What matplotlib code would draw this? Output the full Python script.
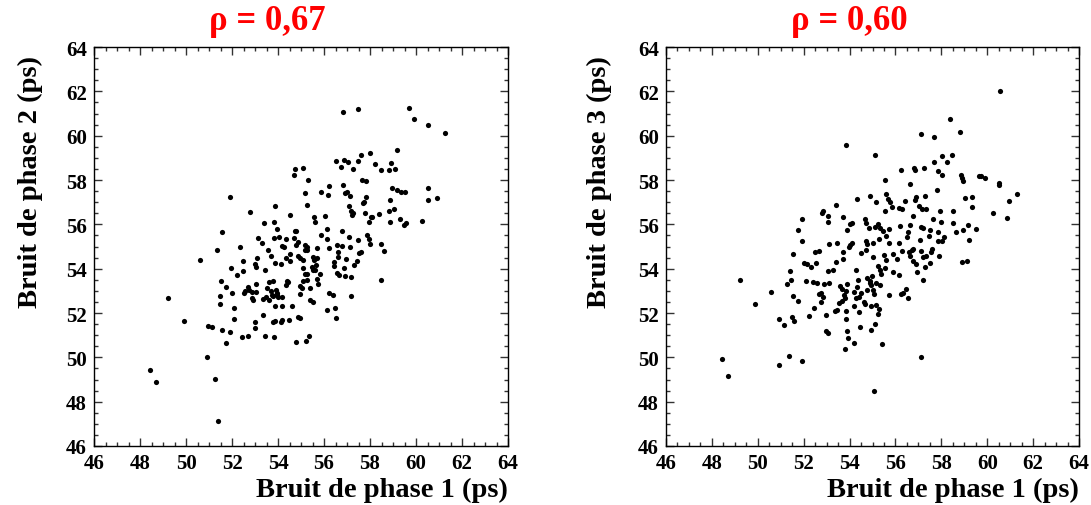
import matplotlib
matplotlib.use("Agg")
import matplotlib.pyplot as plt
from matplotlib.ticker import MultipleLocator

# ---- data: left panel (phase 1 vs phase 2) ----
phase1_a = [56.82, 57.46, 59.69, 59.91, 60.53, 61.27, 59.18, 58.01, 57.62, 56.50,
            56.85, 57.05, 57.49, 58.21, 58.91, 59.08, 58.81, 58.47, 57.27, 56.76,
            54.74, 55.10, 54.68, 55.31, 57.66, 57.84, 56.23, 56.81, 58.94, 59.16,
            59.34, 59.52, 60.50, 55.17, 55.88, 56.18, 56.92, 57.01, 57.11, 57.84,
            51.92, 55.24, 57.74, 57.68, 58.87, 60.50, 60.91, 57.08, 57.18, 57.27,
            57.23, 57.78, 58.08, 58.03, 58.39, 58.84, 59.04, 52.78, 53.85, 54.52,
            55.55, 55.60, 56.04, 57.95, 58.89, 59.30, 59.55, 59.49, 60.26, 53.40,
            53.84, 53.97, 54.75, 54.79, 56.14, 56.78, 51.58, 53.14, 53.30, 53.81,
            54.04, 54.33, 54.69, 54.89, 54.79, 55.17, 55.24, 55.85, 56.11, 56.58,
            56.78, 57.08, 57.11, 57.47, 57.89, 57.94, 58.00, 58.49, 51.34, 52.33,
            53.55, 54.16, 54.27, 54.52, 55.17, 55.71, 56.23, 56.60, 56.63, 56.94,
            57.50, 57.59, 58.60, 50.60, 52.47, 53.07, 53.68, 53.88, 54.13, 54.34,
            54.52, 54.88, 54.95, 55.07, 55.26, 55.50, 55.55, 55.68, 56.42, 57.42,
            53.01, 51.94, 53.05, 53.43, 55.10, 55.49, 55.65, 55.53, 55.62, 56.43,
            56.85, 57.31, 52.46, 52.21, 55.17, 55.27, 55.82, 56.56, 56.66, 56.91,
            57.17, 58.47, 51.53, 53.59, 53.78, 54.37, 54.43, 54.33, 55.07, 55.26,
            55.68, 55.76, 51.75, 52.71, 53.05, 53.50, 52.58, 52.72, 52.52, 52.88,
            53.04, 53.69, 53.91, 53.97, 54.95, 55.05, 55.37, 52.00, 54.95, 51.46,
            52.87, 52.92, 53.33, 53.49, 53.62, 53.72, 53.78, 53.94, 54.01, 54.18,
            55.39, 55.53, 56.20, 56.39, 57.18, 51.49, 53.87, 54.18, 54.62, 52.10,
            56.13, 56.47, 52.10, 53.33, 54.46, 54.17, 54.14, 53.88, 53.79, 54.85,
            54.94, 56.53, 52.98, 50.94, 51.13, 53.01, 51.58, 51.92, 52.42, 52.69,
            53.45, 53.82, 51.75, 54.78, 55.23, 55.34, 50.91, 49.23, 49.90, 51.27,
            51.41, 48.45, 48.71]
phase2 = [61.09, 61.21, 61.27, 60.77, 60.46, 60.11, 59.34, 59.22, 59.15, 58.86,
          58.90, 58.81, 58.84, 58.72, 58.75, 58.51, 58.45, 58.47, 58.51, 58.59,
          58.48, 58.56, 58.23, 58.02, 58.02, 57.94, 57.74, 57.77, 57.65, 57.55,
          57.46, 57.44, 57.65, 57.43, 57.46, 57.32, 57.40, 57.46, 57.28, 57.25,
          57.25, 56.88, 57.02, 56.97, 57.10, 57.10, 57.19, 56.84, 56.61, 56.49,
          56.40, 56.49, 56.34, 56.33, 56.45, 56.60, 56.70, 56.55, 56.81, 56.40,
          56.31, 56.12, 56.37, 56.12, 56.10, 56.24, 56.04, 55.97, 56.15, 56.04,
          56.12, 55.81, 55.72, 55.69, 55.81, 55.68, 55.65, 55.38, 55.15, 55.39,
          55.41, 55.33, 55.39, 55.20, 55.05, 55.06, 54.99, 55.50, 55.32, 55.06,
          55.03, 55.41, 54.97, 55.30, 55.51, 55.36, 55.11, 55.11, 54.82, 54.97,
          54.83, 55.01, 54.99, 54.64, 54.82, 54.91, 54.94, 54.74, 54.53, 54.43,
          54.71, 54.76, 54.79, 54.38, 54.34, 54.50, 54.56, 54.26, 54.19, 54.47,
          54.34, 54.58, 54.50, 54.38, 54.86, 54.52, 54.40, 54.50, 54.29, 54.34,
          54.23, 54.04, 54.08, 53.93, 54.05, 54.08, 54.17, 53.93, 53.96, 54.10,
          54.05, 54.16, 53.88, 53.70, 53.78, 53.76, 53.76, 53.81, 53.73, 53.67,
          53.61, 53.51, 53.43, 53.40, 53.43, 53.43, 53.39, 53.25, 53.45, 53.48,
          53.52, 53.31, 53.16, 53.18, 53.31, 53.12, 52.99, 53.02, 52.90, 52.96,
          52.96, 52.99, 53.02, 52.90, 53.21, 53.15, 53.13, 52.89, 52.87, 52.78,
          52.66, 52.60, 52.63, 52.72, 52.60, 52.81, 52.78, 52.81, 52.72, 52.74,
          52.60, 52.48, 52.90, 52.83, 52.78, 52.39, 52.33, 52.30, 52.30, 52.24,
          52.12, 52.24, 51.71, 51.92, 51.67, 51.70, 51.58, 51.64, 51.58, 51.83,
          51.76, 51.77, 51.61, 51.43, 51.38, 51.32, 51.22, 51.14, 50.90, 50.94,
          50.97, 50.91, 50.66, 50.69, 50.75, 50.96, 50.02, 52.69, 51.64, 49.02,
          47.14, 49.44, 48.89]

# ---- data: right panel (phase 1 vs phase 3) ----
phase1_b = [60.56, 58.38, 58.82, 57.10, 57.70, 53.84, 55.11, 58.05, 58.48, 58.24,
            57.70, 56.25, 56.81, 56.87, 57.25, 57.86, 58.03, 58.85, 58.92, 58.93,
            59.63, 59.72, 59.92, 60.53, 60.53, 61.29, 55.54, 56.64, 57.79, 54.90,
            55.59, 54.33, 55.17, 55.68, 55.75, 56.42, 56.84, 56.90, 57.29, 59.05,
            59.34, 60.93, 53.40, 55.83, 55.56, 56.15, 56.28, 57.03, 57.16, 57.34,
            57.95, 58.50, 59.33, 52.83, 52.79, 53.08, 53.70, 53.07, 51.93, 54.69,
            54.71, 55.23, 55.10, 55.33, 54.85, 55.71, 56.78, 57.63, 57.98, 58.50,
            60.27, 60.88, 51.76, 54.11, 54.04, 53.88, 55.45, 56.20, 56.64, 57.12,
            57.19, 57.50, 57.86, 58.62, 58.95, 59.17, 59.50, 51.93, 53.12, 53.44,
            54.04, 54.11, 53.98, 54.72, 54.77, 55.03, 55.29, 55.58, 55.70, 56.15,
            56.55, 56.52, 57.08, 57.48, 57.85, 58.01, 58.12, 59.20, 51.53, 52.67,
            52.50, 53.70, 54.49, 54.72, 55.03, 55.51, 55.58, 55.91, 56.07, 56.28,
            56.58, 56.74, 56.78, 57.12, 57.58, 57.53, 57.34, 57.19, 57.92, 56.64,
            52.02, 52.14, 52.32, 52.54, 53.41, 53.72, 55.26, 55.33, 55.54, 55.88,
            56.15, 56.78, 56.90, 56.93, 57.29, 57.50, 58.92, 59.11, 51.41, 51.45,
            51.26, 52.11, 52.41, 52.60, 52.88, 53.09, 53.05, 53.28, 54.27, 54.36,
            54.75, 54.90, 54.97, 54.87, 55.16, 55.32, 55.39, 57.19, 49.23, 50.58,
            51.55, 51.76, 52.69, 52.77, 52.83, 52.75, 52.47, 53.59, 53.69, 53.91,
            53.86, 53.76, 53.82, 53.52, 53.69, 54.20, 54.33, 54.27, 54.39, 54.49,
            54.61, 54.68, 54.78, 54.93, 55.01, 55.08, 54.93, 55.16, 55.27, 55.23,
            55.70, 56.23, 56.32, 56.45, 56.54, 49.90, 50.93, 51.13, 51.50, 51.57,
            52.22, 52.99, 53.36, 53.44, 53.85, 53.85, 54.18, 54.43, 54.46, 54.94,
            55.10, 52.99, 53.04, 53.88, 53.94, 54.18, 53.78, 55.42, 51.35, 50.94,
            51.93, 57.12, 48.44, 48.69, 55.05]
phase3 = [62.00, 60.75, 60.18, 60.07, 59.95, 59.56, 59.14, 59.07, 59.14, 58.83,
          58.83, 58.45, 58.53, 58.45, 58.54, 58.39, 58.21, 58.22, 58.07, 57.95,
          58.16, 58.16, 58.07, 57.85, 57.77, 57.37, 58.01, 57.83, 57.56, 57.28,
          57.37, 57.13, 56.99, 57.14, 57.00, 57.07, 57.11, 57.22, 57.26, 57.17,
          57.23, 57.07, 56.86, 56.77, 56.59, 56.72, 56.71, 56.81, 56.71, 56.68,
          56.59, 56.59, 56.80, 56.60, 56.50, 56.38, 56.33, 56.10, 56.22, 56.22,
          56.07, 56.01, 55.86, 55.83, 55.82, 55.79, 56.38, 56.24, 56.12, 56.04,
          56.50, 56.27, 55.73, 56.07, 56.03, 55.76, 55.71, 55.92, 55.95, 55.89,
          55.85, 55.76, 55.64, 55.65, 55.74, 55.97, 55.80, 55.26, 55.10, 55.16,
          55.08, 55.17, 54.98, 55.23, 55.11, 55.16, 55.32, 55.47, 55.16, 55.17,
          55.67, 55.44, 55.31, 55.49, 55.23, 55.23, 55.43, 55.28, 54.66, 54.81,
          54.75, 54.75, 54.71, 54.84, 54.51, 54.62, 54.38, 54.66, 54.44, 54.81,
          54.74, 54.86, 54.90, 54.81, 54.90, 54.74, 54.57, 54.53, 54.56, 54.59,
          54.27, 54.21, 54.09, 54.27, 54.28, 54.45, 54.13, 53.95, 54.04, 53.83,
          53.71, 54.36, 54.21, 53.85, 54.07, 54.27, 54.28, 54.33, 53.91, 53.49,
          53.31, 53.46, 53.38, 53.34, 53.31, 53.37, 53.88, 53.94, 53.92, 53.49,
          53.56, 53.46, 53.68, 53.34, 53.34, 53.28, 53.77, 53.47, 53.49, 52.96,
          52.75, 52.53, 52.86, 52.90, 52.74, 52.50, 52.22, 53.22, 53.08, 53.29,
          52.99, 52.80, 52.69, 52.44, 52.56, 52.93, 53.19, 52.66, 52.72, 52.89,
          52.51, 52.40, 53.05, 53.25, 53.04, 52.86, 52.30, 52.38, 52.20, 51.95,
          52.81, 52.84, 52.89, 53.10, 52.68, 52.40, 51.73, 51.46, 51.80, 51.64,
          51.85, 51.92, 52.07, 52.13, 52.07, 51.74, 52.32, 52.04, 51.38, 51.25,
          51.50, 51.20, 51.11, 51.17, 50.87, 50.66, 50.38, 50.60, 50.07, 49.65,
          49.83, 50.03, 49.92, 49.16, 48.49]

titles = ["\u03c1 = 0,67", "\u03c1 = 0,60"]
xlabel = "Bruit de phase 1 (ps)"
ylabels = ["Bruit de phase 2 (ps)", "Bruit de phase 3 (ps)"]
tick_vals = list(range(46, 65, 2))

plt.rcParams['font.family'] = ['Liberation Serif', 'DejaVu Serif']
plt.rcParams['font.weight'] = 'bold'

W, H = 1091, 506
fig = plt.figure(figsize=(W / 100, H / 100), dpi=100)

panels = [
    (94, 508, phase1_a, phase2, titles[0], ylabels[0], 267, 30),
    (666, 1079, phase1_b, phase3, titles[1], ylabels[1], 849, 599),
]
top_px, bot_px = 48, 447
for (lpx, rpx, xs, ys, title, ylab, tx, ylx) in panels:
    ax = fig.add_axes([lpx / W, (H - bot_px) / H, (rpx - lpx) / W, (bot_px - top_px) / H])
    ax.scatter(xs, ys, s=14, c='black', linewidths=0)
    ax.set_xlim(46, 64)
    ax.set_ylim(46, 64)
    ax.set_xticks(tick_vals)
    ax.set_yticks(tick_vals)
    ax.xaxis.set_minor_locator(MultipleLocator(0.5))
    ax.yaxis.set_minor_locator(MultipleLocator(0.5))
    ax.tick_params(which='both', direction='in', top=True, right=True,
                   labelsize=15, width=1.0, color='#333333')
    ax.tick_params(which='major', length=6, pad=5)
    ax.tick_params(which='minor', length=3)
    for lbl in ax.get_xticklabels() + ax.get_yticklabels():
        lbl.set_fontweight('bold')
    for sp in ax.spines.values():
        sp.set_linewidth(1.0)
    fig.text(tx / W, 1 - 22 / H, title, color='#ff0000', fontsize=25,
             fontweight='bold', ha='center', va='center')
    fig.text(rpx / W, 1 - 490 / H, xlabel, fontsize=20.5, fontweight='bold',
             ha='right', va='center')
    fig.text(ylx / W, 1 - 56 / H, ylab, fontsize=20.5, fontweight='bold',
             rotation=90, ha='center', va='top')

fig.savefig("out.png", dpi=100)
